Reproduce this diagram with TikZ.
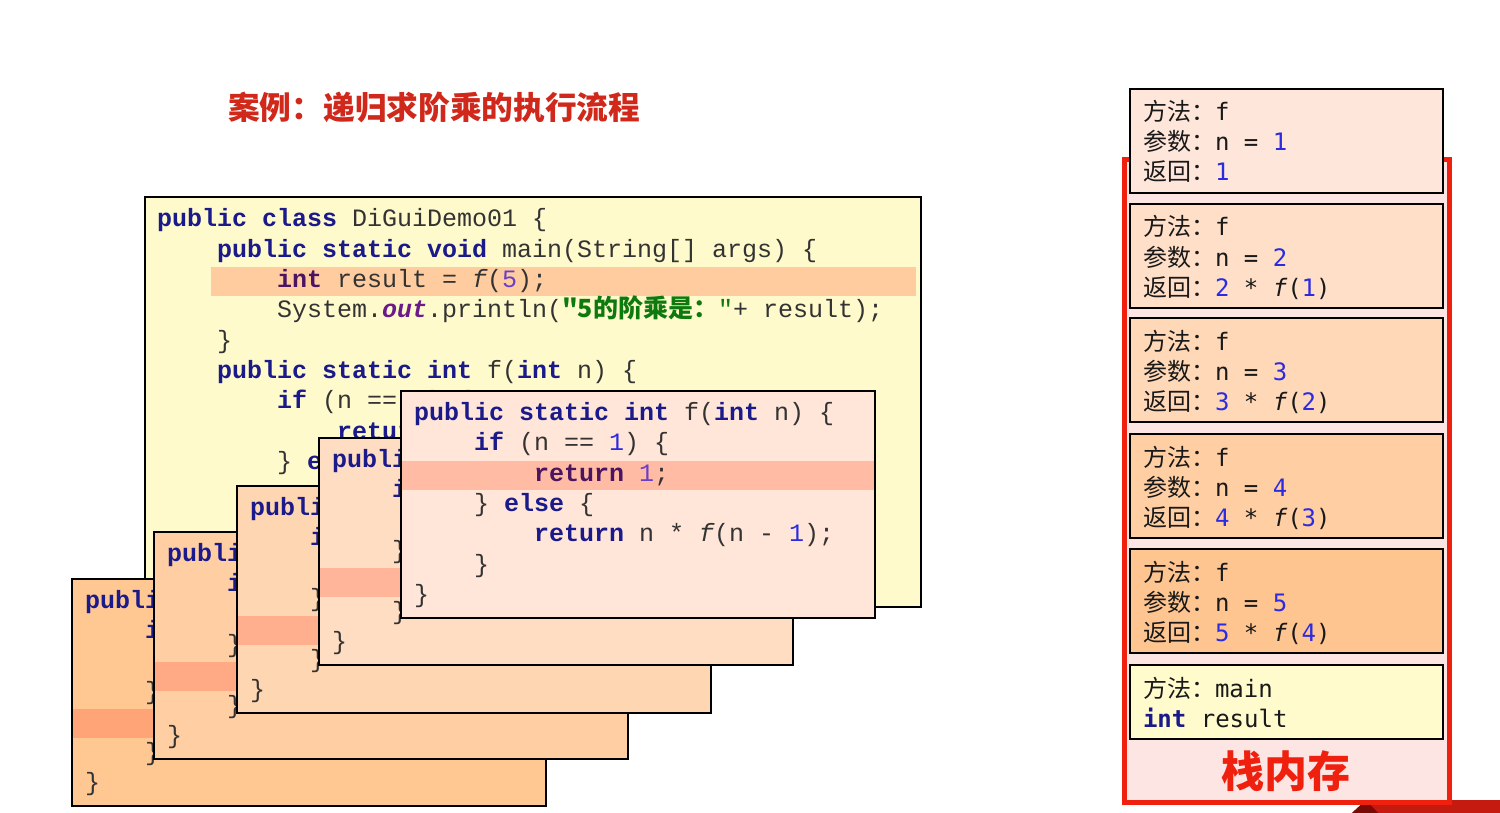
\documentclass[tikz,border=0pt]{standalone}
\usepackage{fontspec}
\newfontfamily\code{Liberation Mono}
\newfontfamily\dmono{DejaVu Sans Mono}
\newfontfamily\cjk{Noto Sans CJK SC}
\definecolor{kwblue}{HTML}{1A1A8A}
\definecolor{codegray}{HTML}{333333}
\definecolor{numblue}{HTML}{2B2BE0}
\definecolor{kwpurple}{HTML}{4A1460}
\definecolor{numpurple}{HTML}{6A3FC8}
\definecolor{outpurple}{HTML}{6A1A8A}
\definecolor{strgreen}{HTML}{0E7A0E}
\definecolor{titlered}{HTML}{D0281A}
\definecolor{memred}{HTML}{F0200E}
\definecolor{mempink}{HTML}{FDE5E3}
\definecolor{bannerred}{HTML}{C41A10}
\definecolor{bannerdark}{HTML}{7A0A06}
\definecolor{mainyellow}{HTML}{FFFACC}
\definecolor{mainhl}{HTML}{FFCCA0}
\definecolor{Efill}{HTML}{FFE6D9}\definecolor{Ehl}{HTML}{FFBBA4}
\definecolor{Dfill}{HTML}{FFDDC2}\definecolor{Dhl}{HTML}{FFB59A}
\definecolor{Cfill}{HTML}{FFD6B2}\definecolor{Chl}{HTML}{FFAE8E}
\definecolor{Bfill}{HTML}{FFCFA3}\definecolor{Bhl}{HTML}{FFA985}
\definecolor{Afill}{HTML}{FFC792}\definecolor{Ahl}{HTML}{FFA477}
\definecolor{mfa}{HTML}{FFE6DA}
\definecolor{mfb}{HTML}{FFDFC8}
\definecolor{mfc}{HTML}{FFD8B8}
\definecolor{mfd}{HTML}{FFCEA3}
\definecolor{mfe}{HTML}{FFC590}
\definecolor{mfmain}{HTML}{FFFBCC}
\newcommand\kw[1]{{\bfseries\color{kwblue}#1}}
\newcommand\kp[1]{{\bfseries\color{kwpurple}#1}}
\newcommand\nb[1]{{\color{numblue}#1}}
\newcommand\np[1]{{\color{numpurple}#1}}
\newcommand\itf{{\itshape f}}
\tikzset{
  codetext/.style={anchor=base west, inner sep=0, outer sep=0, font=\code\fontsize{25}{30}\selectfont, text=codegray},
  memtext/.style={anchor=base west, inner sep=0, outer sep=0, font=\dmono\fontsize{24}{30}\selectfont, text=black!90},
  boxline/.style={draw=black, line width=2.2},
  memnode/.style={draw=black, line width=2.2, minimum width=313, minimum height=104, inner sep=0, outer sep=0, anchor=north west},
}
\newcommand\callbox[6]{%
  \node[fill=#4, minimum width=474, minimum height=227, anchor=north west, inner sep=0, outer sep=0] (#1) at (#2,#3) {};
  \fill[#5] (#2+1,#3+23.5+30.3*#6-30.3-14.5) rectangle (#2+473,#3+23.5+30.3*#6-30.3+14.5);
  \ifnum#6=3 \def\kwr{\kp}\def\nr{\np}\else\def\kwr{\kw}\def\nr{\nb}\fi
  \node[codetext] (#1r1) at (#2+13,#3+29.5) {\kw{public} \kw{static} \kw{int} f(\kw{int} n) \{};
  \node[codetext] (#1r2) at (#2+13+60,#3+59.8) {\kw{if} (n == \nb{1}) \{};
  \node[codetext] (#1r3) at (#2+13+120,#3+90.1) {\kwr{return} \nr{1};};
  \node[codetext] (#1r4) at (#2+13+60,#3+120.4) {\} \kw{else} \{};
  \node[codetext] (#1r5) at (#2+13+120,#3+150.7) {\kw{return} n * \itf(n - \nb{1});};
  \node[codetext] (#1r6) at (#2+13+60,#3+181) {\}};
  \node[codetext] (#1r7) at (#2+13,#3+211.3) {\}};
  \draw[boxline] (#1.north west) rectangle (#1.south east);
}
\newcommand\memframe[5]{%
  \node[memnode, fill=#3] (#1) at (1130,#2) {};
  \node[memtext] (#1a) at (1143,#2+32) {{\cjk 方法：}f};
  \node[memtext] (#1b) at (1143,#2+62) {{\cjk 参数：}n = \nb{#4}};
  \node[memtext] (#1c) at (1143,#2+92) {{\cjk 返回：}#5};
}
\begin{document}
\begin{tikzpicture}[x=1pt,y=-1pt]
\useasboundingbox (0,0) rectangle (1500,813);
\fill[white] (0,0) rectangle (1500,813);
% title
\node[anchor=west, inner sep=0, font=\cjk\bfseries\fontsize{31.7}{32}\selectfont, text=titlered] (title) at (228,107) {案例：递归求阶乘的执行流程};
% main code box
\node[fill=mainyellow, minimum width=776, minimum height=410, anchor=north west, inner sep=0, outer sep=0] (main) at (145,197) {};
\fill[mainhl] (211,267) rectangle (916,296);
\node[codetext] (m1) at (157,227) {\kw{public} \kw{class} DiGuiDemo01 \{};
\node[codetext] (m2) at (217,257.3) {\kw{public} \kw{static} \kw{void} main(String[] args) \{};
\node[codetext] (m3) at (277,287.6) {\kp{int} result = \itf(\np{5});};
\node[codetext] (m4) at (277,317.9) {System.{\bfseries\itshape\color{outpurple}out}.println({\cjk\bfseries\color{strgreen}"5的阶乘是：}{\color{strgreen}"}+ result);};
\node[codetext] (m5) at (217,348.2) {\}};
\node[codetext] (m6) at (217,378.5) {\kw{public} \kw{static} \kw{int} f(\kw{int} n) \{};
\node[codetext] (m7) at (277,408.8) {\kw{if} (n == \nb{1}) \{};
\node[codetext] (m8) at (337,439.1) {\kw{return} \nb{1};};
\node[codetext] (m9) at (277,469.4) {\} \kw{else} \{};
\node[codetext] (m10) at (337,499.7) {\kw{return} n * \itf(n - \nb{1});};
\node[codetext] (m11) at (277,530) {\}};
\draw[boxline] (main.north west) rectangle (main.south east);
% recursive call boxes
\callbox{A}{72}{579}{Afill}{Ahl}{5}
\callbox{B}{154}{532}{Bfill}{Bhl}{5}
\callbox{C}{237}{486}{Cfill}{Chl}{5}
\callbox{D}{319}{438}{Dfill}{Dhl}{5}
\callbox{E}{401}{391}{Efill}{Ehl}{3}
% banner
\fill[bannerred] (1352,813) -- (1366,800) -- (1500,800) -- (1500,813) -- cycle;
\fill[bannerdark] (1352,813) -- (1366,800) -- (1378,813) -- cycle;
% stack memory
\node[draw=memred, line width=5, fill=mempink, minimum width=325, minimum height=642, anchor=north west, inner sep=0, outer sep=0] (stack) at (1124,160) {};
\memframe{fa}{89}{mfa}{1}{\nb{1}}
\memframe{fb}{204}{mfb}{2}{\nb{2} * \itf(\nb{1})}
\memframe{fc}{318}{mfc}{3}{\nb{3} * \itf(\nb{2})}
\memframe{fd}{434}{mfd}{4}{\nb{4} * \itf(\nb{3})}
\memframe{fe}{549}{mfe}{5}{\nb{5} * \itf(\nb{4})}
\node[memnode, fill=mfmain, minimum height=74] (fm) at (1130,665) {};
\node[memtext] (fma) at (1143,697) {{\cjk 方法：}main};
\node[memtext] (fmb) at (1143,727) {\kw{int} result};
\node[font=\cjk\bfseries\fontsize{43}{43}\selectfont, text=memred, inner sep=0] (stacklabel) at (1286,771) {栈内存};
\end{tikzpicture}
\end{document}
